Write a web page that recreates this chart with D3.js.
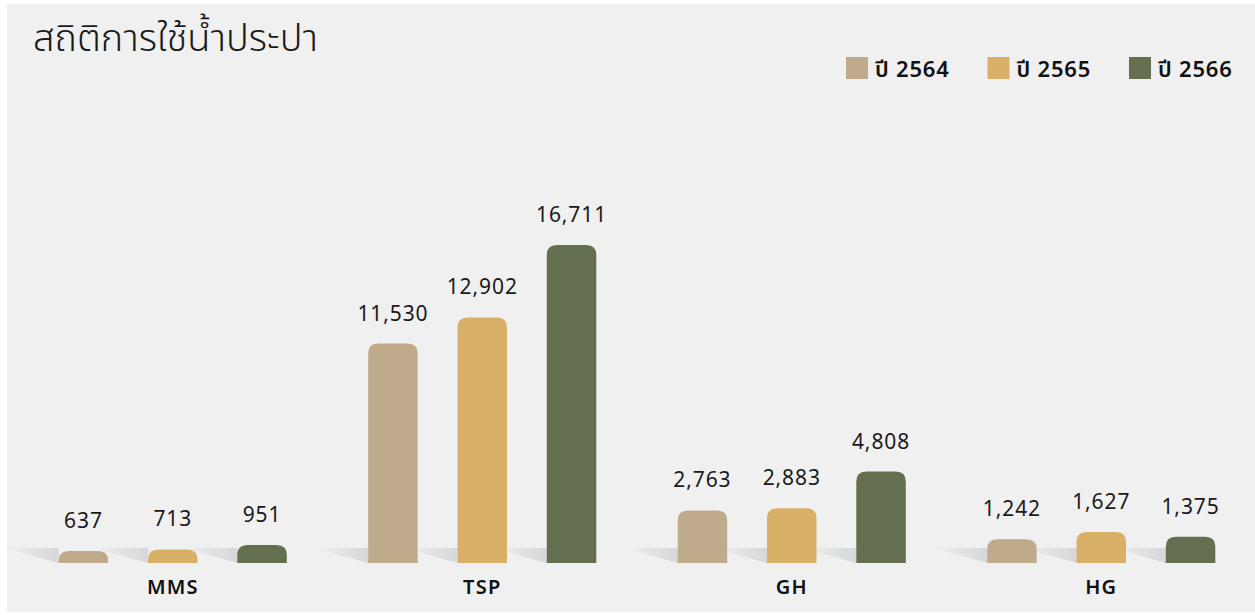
<!DOCTYPE html>
<html>
<head>
<meta charset="utf-8">
<script src="https://cdn.jsdelivr.net/npm/d3@7"></script>
<style>
  body { margin: 0; background: #fff; }
  svg { display: block; font-family: "Noto Sans", "Noto Sans Thai", "DejaVu Sans", sans-serif; }
</style>
</head>
<body>
<div id="chart"></div>
<script>
// data
var categories = ['MMS', 'TSP', 'GH', 'HG'];
var seriesNames = ['ปี 2564', 'ปี 2565', 'ปี 2566'];
var y2564 = [637, 11530, 2763, 1242];
var y2565 = [713, 12902, 2883, 1627];
var y2566 = [951, 16711, 4808, 1375];
var colors = ['#bfaa8c', '#d8b068', '#646f50'];

var width = 1255, height = 615;
var baseline = 563;

var svg = d3.select('#chart').append('svg')
    .attr('width', width)
    .attr('height', height);

// gradient for the little shadows behind each bar
var defs = svg.append('defs');
var grad = defs.append('linearGradient')
    .attr('id', 'shade')
    .attr('x1', '0%').attr('x2', '100%');
grad.append('stop').attr('offset', '0%').attr('stop-color', '#f0f0f0');
grad.append('stop').attr('offset', '100%').attr('stop-color', '#d6d7da');

// panel background
svg.append('rect')
    .attr('x', 7).attr('y', 4)
    .attr('width', width - 7).attr('height', 608)
    .attr('fill', '#f0f0f0');

// title
svg.append('text')
    .attr('x', 33).attr('y', 51)
    .attr('font-size', 38)
    .attr('font-weight', 300)
    .attr('fill', '#1a1a1a')
    .text('สถิติการใช้น้ำประปา');

// legend
var legend = svg.append('g').attr('class', 'legend');
seriesNames.forEach(function(name, i) {
    var g = legend.append('g').attr('transform', 'translate(' + (846 + i * 141.5) + ',57)');
    g.append('rect').attr('width', 22).attr('height', 22).attr('fill', colors[i]);
    g.append('text')
        .attr('x', 29).attr('y', 20)
        .attr('font-size', 22)
        .attr('font-weight', 600)
        .attr('letter-spacing', 0.8)
        .attr('fill', '#111')
        .text(name);
});

// scales
var x0 = d3.scaleBand().domain(categories).range([18, 1256]);
var bw = 49.5;
var step = 89.3;
var yScale = d3.scaleLinear().domain([0, 20000]).range([baseline, baseline - 380.6]);

var data = categories.map(function(c, i) {
    return { cat: c, values: [y2564[i], y2565[i], y2566[i]] };
});

var groups = svg.append('g').selectAll('g.group')
    .data(data)
    .enter().append('g')
    .attr('class', 'group')
    .attr('transform', function(d) { return 'translate(' + (x0(d.cat) + x0.bandwidth() / 2) + ',0)'; });

function barX(i) { return (i - 1) * step - bw / 2; }

// shadows first so bars sit over them
groups.selectAll('path.shadow')
    .data(function(d) { return d.values; })
    .enter().append('path')
    .attr('class', 'shadow')
    .attr('fill', 'url(#shade)')
    .attr('d', function(v, i) {
        var xl = barX(i);
        return 'M' + (xl - 54) + ',' + (baseline - 15) + 'L' + xl + ',' + (baseline - 15) + 'L' + xl + ',' + baseline + 'Z';
    });

// bars with rounded top corners
var r = 10;
groups.selectAll('path.bar')
    .data(function(d) { return d.values; })
    .enter().append('path')
    .attr('class', 'bar')
    .attr('fill', function(v, i) { return colors[i]; })
    .attr('d', function(v, i) {
        var xl = barX(i), xr = xl + bw, top = yScale(v);
        var rr = Math.min(r, (baseline - top));
        return 'M' + xl + ',' + baseline +
            'L' + xl + ',' + (top + rr) +
            'Q' + xl + ',' + top + ' ' + (xl + rr) + ',' + top +
            'L' + (xr - rr) + ',' + top +
            'Q' + xr + ',' + top + ' ' + xr + ',' + (top + rr) +
            'L' + xr + ',' + baseline + 'Z';
    });

// value labels
groups.selectAll('text.val')
    .data(function(d) { return d.values; })
    .enter().append('text')
    .attr('class', 'val')
    .attr('x', function(v, i) { return barX(i) + bw / 2; })
    .attr('y', function(v) { return yScale(v) - 23; })
    .attr('text-anchor', 'middle')
    .attr('font-size', 21)
    .attr('letter-spacing', 0.9)
    .attr('fill', '#1a1a1a')
    .text(function(v) { return d3.format(',')(v); });

// category labels
groups.append('text')
    .attr('y', 594)
    .attr('text-anchor', 'middle')
    .attr('font-size', 20)
    .attr('font-weight', 600)
    .attr('letter-spacing', 1.2)
    .attr('fill', '#111')
    .text(function(d) { return d.cat; });
</script>
</body>
</html>
